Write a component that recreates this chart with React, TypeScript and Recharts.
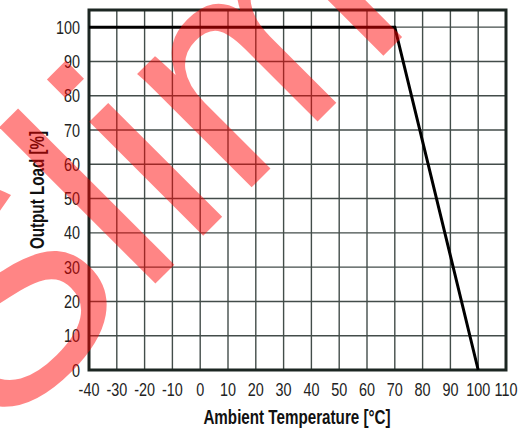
import { LineChart, Line, XAxis, YAxis, CartesianGrid, ReferenceArea } from 'recharts';

const temps = [-40, 70, 100];
const loads = [100, 100, 0];
const xTicks = [-40, -30, -20, -10, 0, 10, 20, 30, 40, 50, 60, 70, 80, 90, 100, 110];
const yTicks = [0, 10, 20, 30, 40, 50, 60, 70, 80, 90, 100];

const data = temps.map((t, i) => ({ temp: t, load: loads[i] }));

const font = '"Liberation Sans", Arial, sans-serif';
const squeeze = 0.8;

// narrow-looking tick text (no condensed font installed, so scale horizontally)
const XTick = (props: any) => {
  const { x, y, payload } = props;
  return (
    <text
      transform={`translate(${x},${y + 26}) scale(${squeeze},1)`}
      textAnchor="middle"
      fontFamily={font}
      fontSize={18}
      fill="#222"
    >
      {payload.value}
    </text>
  );
};

const YTick = (props: any) => {
  const { x, y, payload } = props;
  return (
    <text
      transform={`translate(${x},${y + 6.5}) scale(${squeeze},1)`}
      textAnchor="end"
      fontFamily={font}
      fontSize={18}
      fill="#222"
    >
      {payload.value}
    </text>
  );
};

export default function App() {
  return (
    <div style={{ position: 'absolute', left: 0, top: 0, width: 519, height: 430, background: '#fff' }}>
      <LineChart
        width={519}
        height={430}
        data={data}
        margin={{ top: 10, right: 13, left: 0, bottom: 0 }}
      >
        <CartesianGrid stroke="#434d4a" strokeWidth={1.4} />
        <XAxis
          type="number"
          dataKey="temp"
          domain={[-40, 110]}
          ticks={xTicks}
          interval={0}
          height={60}
          axisLine={false}
          tickLine={false}
          tickSize={0}
          tickMargin={0}
          tick={<XTick />}
        />
        <YAxis
          type="number"
          domain={[0, 105]}
          ticks={yTicks}
          interval={0}
          width={89}
          axisLine={false}
          tickLine={false}
          tickSize={0}
          tickMargin={9}
          tick={<YTick />}
        />
        <ReferenceArea
          x1={-40}
          x2={110}
          y1={0}
          y2={105}
          fill="none"
          stroke="#1c2622"
          strokeWidth={3}
          ifOverflow="visible"
        />
        <Line
          type="linear"
          dataKey="load"
          stroke="#000"
          strokeWidth={3}
          dot={false}
          isAnimationActive={false}
        />
      </LineChart>
      <svg
        width={519}
        height={430}
        style={{ position: 'absolute', left: 0, top: 0, pointerEvents: 'none', overflow: 'hidden' }}
      >
        <text
          transform="translate(297,424) scale(0.76,1)"
          textAnchor="middle"
          fontFamily={font}
          fontWeight="bold"
          fontSize={20}
          fill="#111"
        >
          Ambient Temperature [°C]
        </text>
        <text
          transform="translate(44,190) rotate(-90) scale(0.76,1)"
          textAnchor="middle"
          fontFamily={font}
          fontWeight="bold"
          fontSize={20}
          fill="#111"
        >
          Output Load [%]
        </text>
        <text
          transform="translate(-3,442) rotate(-45)"
          fontFamily={font}
          fontSize={305}
          fill="rgba(255,0,0,0.48)"
        >
          Slim
        </text>
      </svg>
    </div>
  );
}
